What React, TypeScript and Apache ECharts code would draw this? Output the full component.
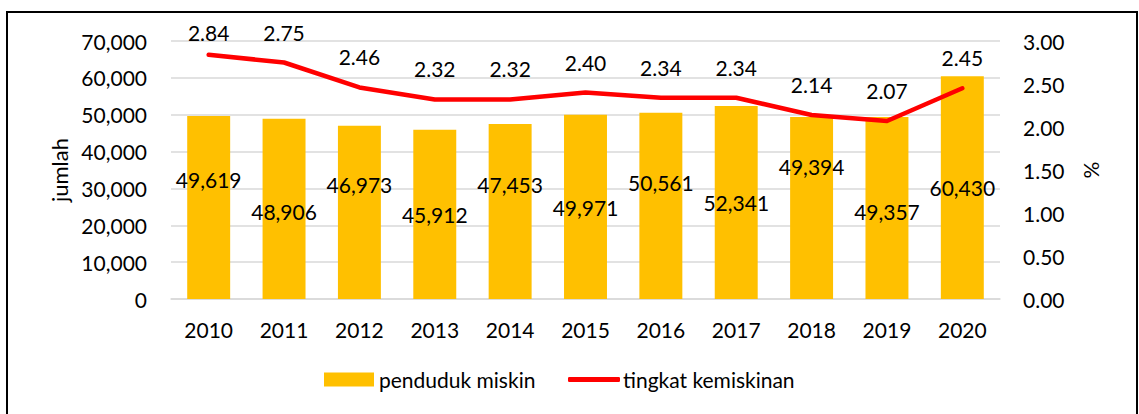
import React, { useEffect, useRef } from "react";
import * as echarts from "echarts";

const years = ["2010", "2011", "2012", "2013", "2014", "2015", "2016", "2017", "2018", "2019", "2020"];
const pendudukMiskin = [49619, 48906, 46973, 45912, 47453, 49971, 50561, 52341, 49394, 49357, 60430];
const tingkatKemiskinan = [2.84, 2.75, 2.46, 2.32, 2.32, 2.4, 2.34, 2.34, 2.14, 2.07, 2.45];
// vertical label nudges (px) for the bar value labels, as in the source
const barLabelDy = [-109, -77, -104, -74, -104, -81, -106, -86, -122, -77, -101];

const FONT = "Lato, 'Noto Sans', sans-serif";
const FS = 21;

export default function App() {
  const ref = useRef<HTMLDivElement>(null);
  useEffect(() => {
    if (!ref.current) return;
    const chart = echarts.init(ref.current, undefined, { renderer: "svg" });
    const fmt = (v: number) => v.toLocaleString("en-US");
    chart.setOption({
      animation: false,
      textStyle: { fontFamily: FONT, color: "#000" },
      grid: { left: 171, right: 139, top: 41, bottom: 115, containLabel: false },
      legend: [
        {
          left: 319,
          bottom: 19,
          itemWidth: 50,
          itemHeight: 14,
          itemGap: 0,
          textStyle: { fontFamily: FONT, fontSize: FS, color: "#000" },
          data: [{ name: "penduduk miskin", icon: "rect" }],
        },
        {
          left: 563,
          bottom: 19,
          itemWidth: 52,
          itemHeight: 5,
          itemGap: 0,
          textStyle: { fontFamily: FONT, fontSize: FS, color: "#000", padding: [0, 0, 0, -2] },
          data: [{ name: "tingkat kemiskinan", icon: "roundRect", itemStyle: { color: "#FF0000" } }],
        },
      ],
      xAxis: {
        type: "category",
        data: years,
        axisTick: { show: false },
        axisLine: { lineStyle: { color: "#D9D9D9", width: 1.5 } },
        axisLabel: { fontFamily: FONT, fontSize: FS, color: "#000", margin: 20 },
      },
      yAxis: [
        {
          type: "value",
          min: 0,
          max: 70000,
          interval: 10000,
          name: "jumlah",
          nameLocation: "middle",
          nameGap: 100,
          nameRotate: 90,
          nameTextStyle: { fontFamily: FONT, fontSize: 22, color: "#000" },
          axisLabel: { fontFamily: FONT, fontSize: FS, color: "#000", margin: 24, formatter: (v: number) => fmt(v) },
          splitLine: { lineStyle: { color: "#D9D9D9", width: 1.5 } },
          axisLine: { show: false },
          axisTick: { show: false },
        },
        {
          type: "value",
          min: 0,
          max: 3,
          interval: 0.5,
          name: "%",
          nameLocation: "middle",
          nameGap: 80,
          nameRotate: 90,
          nameTextStyle: { fontFamily: FONT, fontSize: FS, color: "#000" },
          axisLabel: { fontFamily: FONT, fontSize: FS, color: "#000", margin: 23, formatter: (v: number) => v.toFixed(2) },
          splitLine: { show: false },
          axisLine: { show: false },
          axisTick: { show: false },
        },
      ],
      series: [
        {
          name: "penduduk miskin",
          type: "bar",
          yAxisIndex: 0,
          barWidth: "57%",
          itemStyle: { color: "#FFC000" },
          data: pendudukMiskin.map((v, i) => ({
            value: v,
            label: {
              show: true,
              position: "insideBottom",
              distance: 0,
              offset: [0, barLabelDy[i]],
              fontFamily: FONT,
              fontSize: FS,
              color: "#000",
              formatter: (p: any) => fmt(p.value),
            },
          })),
        },
        {
          name: "tingkat kemiskinan",
          type: "line",
          yAxisIndex: 1,
          symbol: "circle",
          symbolSize: 0,
          showSymbol: true,
          lineStyle: { color: "#FF0000", width: 4.5, cap: "round", join: "round" },
          itemStyle: { color: "#FF0000" },
          data: tingkatKemiskinan.map((v, i) => ({
            value: v,
            label: {
              show: true,
              position: "top",
              distance: i === 0 ? 12 : 20,
              fontFamily: FONT,
              fontSize: FS,
              color: "#000",
              formatter: (p: any) => p.value.toFixed(2),
            },
          })),
        },
      ],
    });
    return () => chart.dispose();
  }, []);
  return (
    <div style={{ position: "absolute", left: 0, top: 0, width: 1139, height: 414, background: "#fff", overflow: "hidden" }}>
      <div
        style={{
          position: "absolute",
          left: 6,
          top: 11,
          width: 1132,
          height: 420,
          border: "2px solid #000",
          boxSizing: "border-box",
        }}
      />
      <div ref={ref} style={{ position: "absolute", left: 0, top: 0, width: 1139, height: 414 }} />
    </div>
  );
}
